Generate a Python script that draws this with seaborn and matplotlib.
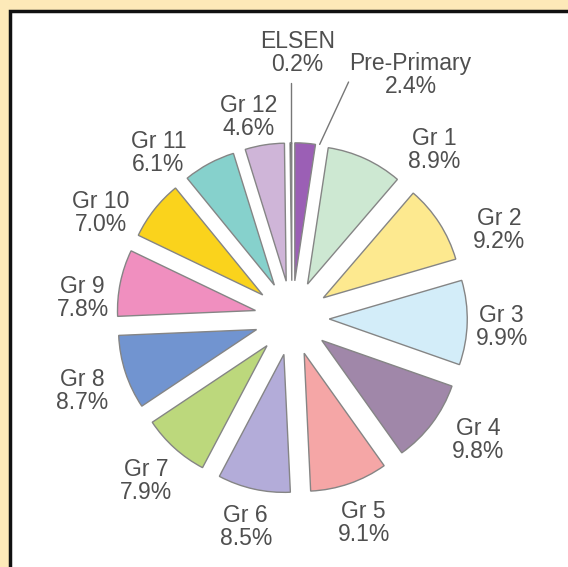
import numpy as np
import matplotlib.pyplot as plt
import matplotlib.patches as mpatches
import seaborn as sns

# share of learners per grade (%)
categories = ['Pre-Primary', 'Gr 1', 'Gr 2', 'Gr 3', 'Gr 4', 'Gr 5', 'Gr 6',
              'Gr 7', 'Gr 8', 'Gr 9', 'Gr 10', 'Gr 11', 'Gr 12', 'ELSEN']
shares = [2.4, 8.9, 9.2, 9.9, 9.8, 9.1, 8.5, 7.9, 8.7, 7.8, 7.0, 6.1, 4.6, 0.2]
slice_colours = ['#9b5fb5', '#cde8d2', '#fde98f', '#d3edf9', '#a087a9', '#f5a6a6',
                 '#b3acd9', '#bcd87c', '#7194d0', '#f08fbf', '#fad31c', '#86d1cc',
                 '#cfb5d8', '#333333']

# small hand nudges (pixels, right/down) so labels sit where the original has them
label_nudge = [(0, 0), (52, 29), (25, 29), (-7, 3), (13, -8), (1, 0), (1, -2),
               (-1, 2), (-4, 6), (3, 24), (-21, 29), (-31, 26), (-10, 13), (0, 0)]

sns.set_theme(style='white')
plt.rcParams['font.family'] = ['Liberation Sans', 'DejaVu Sans']
text_colour = '#4f4f4f'
PX = 138.0  # pixels per pie radius

fig = plt.figure(figsize=(5.68, 5.67), dpi=100)
fig.patch.set_facecolor('#fde9b8')

# white panel with dark frame (runs off the right and bottom edges)
frame = mpatches.Rectangle((9.5 / 568, -0.05), 1.2, 1 - 11 / 567 + 0.05,
                           transform=fig.transFigure, facecolor='white',
                           edgecolor='#111111', linewidth=2.5, zorder=-1)
fig.patches.append(frame)

ax = fig.add_axes([0, 0, 1, 1])
ax.set_facecolor('none')

# ELSEN and Pre-Primary get their own labels with leader lines
pie_labels = [f'{c}\n{v:.1f}%' if c not in ('ELSEN', 'Pre-Primary') else ''
              for c, v in zip(categories, shares)]

wedges, texts = ax.pie(shares, explode=[0.27] * len(shares), labels=pie_labels,
                       colors=sns.color_palette(slice_colours), startangle=90,
                       counterclock=False, labeldistance=1.3,
                       wedgeprops=dict(edgecolor='#858585', linewidth=1),
                       textprops=dict(color=text_colour, fontsize=16.5))
for t, (dx, dy) in zip(texts, label_nudge):
    x, y = t.get_position()
    t.set_position((x + dx / PX, y - dy / PX))
    t.set_horizontalalignment('center')
    t.set_verticalalignment('center')
    t.set_linespacing(1.0)

# leader-line labels
def corner(w, theta):
    a = np.deg2rad(theta)
    return w.center[0] + w.r * np.cos(a), w.center[1] + w.r * np.sin(a)

w_els = wedges[categories.index('ELSEN')]
x0, y0 = corner(w_els, 0.5 * (w_els.theta1 + w_els.theta2))
ax.plot([x0, x0], [y0, 1.70], color='#777777', lw=1)
ax.text(0.04, 1.92, f'ELSEN\n{shares[-1]:.1f}%', ha='center', va='center',
        color=text_colour, fontsize=16.5, linespacing=1.0)

w_pp = wedges[categories.index('Pre-Primary')]
x1, y1 = corner(w_pp, min(w_pp.theta1, w_pp.theta2))
ax.plot([x1 + 0.03, 0.41], [y1, 1.71], color='#777777', lw=1)
ax.text(0.86, 1.76, f'Pre-Primary\n{shares[0]:.1f}%', ha='center', va='center',
        color=text_colour, fontsize=16.5, linespacing=1.0)

ax.set_xlim(-292 / PX, 276 / PX)
ax.set_ylim(-249 / PX, 318 / PX)
ax.set_aspect('equal', adjustable='datalim')
ax.axis('off')

fig.savefig('out.png', dpi=100, facecolor=fig.get_facecolor())
